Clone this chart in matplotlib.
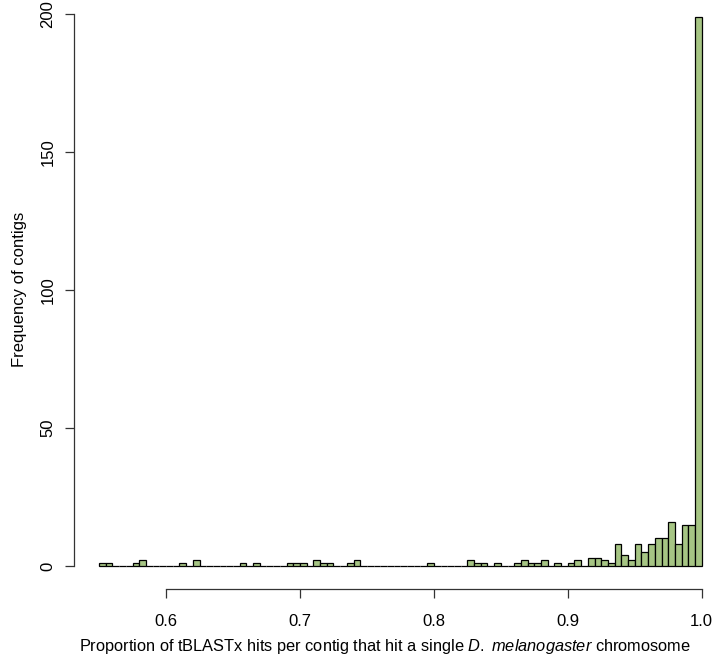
import numpy as np
import matplotlib
matplotlib.use('Agg')
import matplotlib.pyplot as plt

# histogram counts, bins of width 0.005 from 0.55 to 1.0
bin_edges = np.linspace(0.55, 1.0, 91)
counts = [
    1, 1, 0, 0, 0, 1, 2, 0, 0, 0,      # 0.550 - 0.595
    0, 0, 1, 0, 2, 0, 0, 0, 0, 0,      # 0.600 - 0.645
    0, 1, 0, 1, 0, 0, 0, 0, 1, 1,      # 0.650 - 0.695
    1, 0, 2, 1, 1, 0, 0, 1, 2, 0,      # 0.700 - 0.745
    0, 0, 0, 0, 0, 0, 0, 0, 0, 1,      # 0.750 - 0.795
    0, 0, 0, 0, 0, 2, 1, 1, 0, 1,      # 0.800 - 0.845
    0, 0, 1, 2, 1, 1, 2, 0, 1, 0,      # 0.850 - 0.895
    1, 2, 0, 3, 3, 2, 1, 8, 4, 2,      # 0.900 - 0.945
    8, 5, 8, 10, 10, 16, 8, 15, 15, 199,  # 0.950 - 0.995
]
x_ticks = [0.6, 0.7, 0.8, 0.9, 1.0]
x_ticklabels = ['0.6', '0.7', '0.8', '0.9', '1.0']
y_ticks = [0, 50, 100, 150, 200]

plt.rcParams['font.family'] = ['Liberation Sans', 'DejaVu Sans']
plt.rcParams['mathtext.fontset'] = 'custom'
plt.rcParams['mathtext.rm'] = 'Liberation Sans'
plt.rcParams['mathtext.it'] = 'Liberation Sans:italic'

W, H = 714, 659
fig = plt.figure(figsize=(W / 100, H / 100), dpi=100)

# axes box placed to match the R plot region
ax = fig.add_axes([74.3 / W, 1 - 589.3 / H, 1 - 74.3 / W, 589.3 / H])
ax.bar(bin_edges[:-1], counts, width=np.diff(bin_edges), align='edge',
       color='#a6c584', edgecolor='black', linewidth=0.9)

ax.set_xlim(0.5315, 1.0092)
ax.set_ylim(-8.44, 205.07)

for s in ['top', 'right']:
    ax.spines[s].set_visible(False)
ax.spines['left'].set_bounds(0, 200)
ax.spines['bottom'].set_bounds(0.6, 1.0)
for s in ['left', 'bottom']:
    ax.spines[s].set_linewidth(0.9)
    ax.spines[s].set_color('#333333')

ax.set_xticks(x_ticks)
ax.set_xticklabels(x_ticklabels)
ax.set_yticks(y_ticks)
ax.set_yticklabels([str(v) for v in y_ticks], rotation=90, va='center')
ax.tick_params(axis='both', length=6.5, width=0.9, color='#333333',
               labelsize=12)
ax.tick_params(axis='x', pad=11)
ax.tick_params(axis='y', pad=7)

fig.text(385 / W, 1 - 647 / H,
         'Proportion of tBLASTx hits per contig that hit a single '
         r'$\mathit{D.}$$\mathit{\ melanogaster}$ chromosome',
         ha='center', va='center', fontsize=11.75)
fig.text(20 / W, 1 - 289 / H, 'Frequency of contigs', rotation=90,
         ha='center', va='center', fontsize=12)

fig.savefig('out.png', dpi=100)
